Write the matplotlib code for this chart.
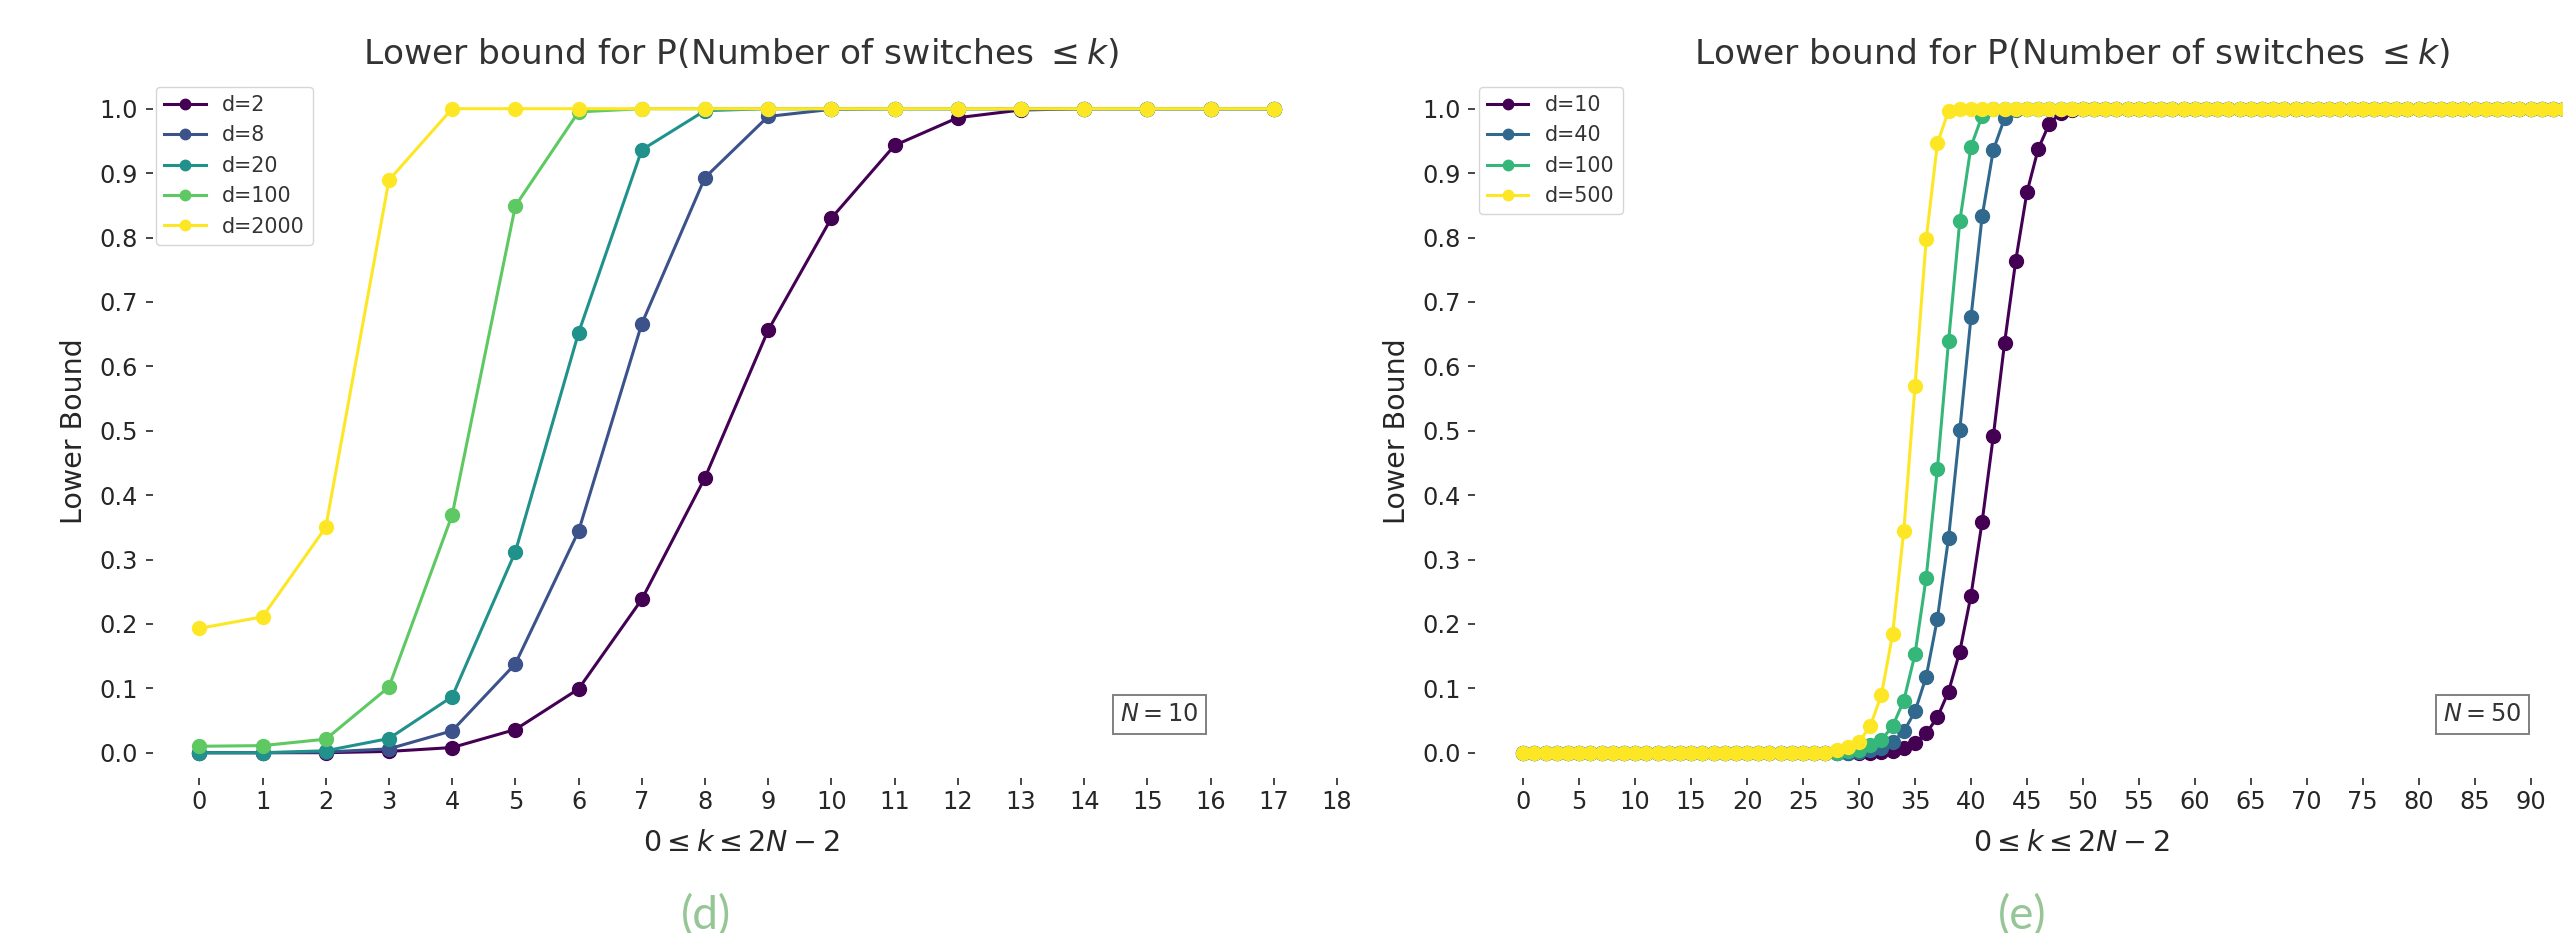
import matplotlib
matplotlib.use("Agg")
import matplotlib.pyplot as plt
import numpy as np

# ---------------- data ----------------
k_left = list(range(0, 18))
left_labels = ["d=2", "d=8", "d=20", "d=100", "d=2000"]
left_d2 = [0.0, 0.0, 0.0, 0.002, 0.008, 0.036, 0.099, 0.238, 0.427, 0.656, 0.830, 0.943,
           0.986, 0.998, 1.0, 1.0, 1.0, 1.0]
left_d8 = [0.0, 0.0, 0.001, 0.006, 0.034, 0.138, 0.344, 0.666, 0.893, 0.988, 0.999, 1.0,
           1.0, 1.0, 1.0, 1.0, 1.0, 1.0]
left_d20 = [0.0, 0.0, 0.003, 0.022, 0.087, 0.312, 0.652, 0.936, 0.997, 1.0, 1.0, 1.0,
            1.0, 1.0, 1.0, 1.0, 1.0, 1.0]
left_d100 = [0.010, 0.011, 0.021, 0.102, 0.369, 0.849, 0.995, 1.0, 1.0, 1.0, 1.0, 1.0,
             1.0, 1.0, 1.0, 1.0, 1.0, 1.0]
left_d2000 = [0.193, 0.211, 0.350, 0.889, 1.0, 1.0, 1.0, 1.0, 1.0, 1.0, 1.0, 1.0,
              1.0, 1.0, 1.0, 1.0, 1.0, 1.0]
left_xticks = list(range(0, 19))

k_right = list(range(0, 99))
right_labels = ["d=10", "d=40", "d=100", "d=500"]
# values listed from k=28 upward; earlier k values are 0, later ones are 1
right_d10_tail = [0.0, 0.0, 0.0, 0.0, 0.001, 0.003, 0.007, 0.015, 0.030, 0.055, 0.095, 0.157,
                  0.244, 0.359, 0.492, 0.636, 0.764, 0.870, 0.937, 0.977, 0.993, 0.998]
right_d40_tail = [0.0, 0.0, 0.001, 0.004, 0.008, 0.017, 0.033, 0.064, 0.118, 0.208, 0.334,
                  0.501, 0.676, 0.833, 0.936, 0.985, 0.998]
right_d100_tail = [0.0, 0.002, 0.004, 0.012, 0.020, 0.041, 0.081, 0.153, 0.272, 0.441, 0.639,
                   0.825, 0.941, 0.989, 0.999]
right_d500_tail = [0.004, 0.009, 0.017, 0.041, 0.090, 0.184, 0.345, 0.569, 0.797, 0.946, 0.997]
right_start = 28
right_xticks = list(range(0, 91, 5))


def full_series(tail, start, n):
    vals = [0.0] * start + list(tail)
    vals += [1.0] * (n - len(vals))
    return vals


right_series = [full_series(t, right_start, len(k_right))
                for t in (right_d10_tail, right_d40_tail, right_d100_tail, right_d500_tail)]
left_series = [left_d2, left_d8, left_d20, left_d100, left_d2000]

# ---------------- style ----------------
W, H = 2563, 933
TXT = "#262626"
plt.rcParams["font.family"] = ["DejaVu Sans"]
plt.rcParams["text.color"] = TXT

fig = plt.figure(figsize=(W / 100, H / 100), dpi=100)
fig.patch.set_facecolor("white")

ax_bottom = (H - 784.9) / H
ax_height = 708.4 / H
ax1 = fig.add_axes([145.6 / W, ax_bottom, (1337 - 145.6) / W, ax_height])
ax2 = fig.add_axes([1468.4 / W, ax_bottom, (2675 - 1468.4) / W, ax_height])


def style_axes(ax, xticks):
    for s in ax.spines.values():
        s.set_visible(False)
    ax.set_facecolor("white")
    ax.grid(False)
    ax.set_xticks(xticks)
    ax.set_yticks(np.round(np.arange(0, 1.01, 0.1), 1))
    ax.yaxis.set_major_formatter(matplotlib.ticker.FormatStrFormatter("%.1f"))
    ax.tick_params(axis="both", direction="in", length=5, width=1.2, color=TXT,
                   labelsize=17.3, labelcolor=TXT)
    ax.tick_params(axis="y", pad=5.5)
    ax.tick_params(axis="x", pad=3.5)
    ax.set_title(r"Lower bound for P(Number of switches $\leq k$)", fontsize=24.8,
                 color="#333333", pad=9)
    ax.set_ylabel("Lower Bound", fontsize=20.5, color=TXT, labelpad=8)
    ax.set_xlabel(r"$0 \leq k \leq 2N-2$", fontsize=20.5, color=TXT, labelpad=11)


cmap = plt.get_cmap("viridis")
lc = cmap(np.linspace(0, 1, len(left_series)))
for vals, lab, c in zip(left_series, left_labels, lc):
    ax1.plot(k_left, vals, "-o", color=c, lw=2.2, ms=10, label=lab)

rc = cmap(np.linspace(0, 1, len(right_series)))
for vals, lab, c in zip(right_series, right_labels, rc):
    ax2.plot(k_right, vals, "-o", color=c, lw=2.2, ms=10, label=lab)

style_axes(ax1, left_xticks)
style_axes(ax2, right_xticks)

for ax in (ax1, ax2):
    leg = ax.legend(loc="upper left", fontsize=14.9, markerscale=0.75, frameon=True,
                    fancybox=True, edgecolor="#cccccc", framealpha=0.8)
    for t in leg.get_texts():
        t.set_color("#333333")

box = dict(boxstyle="square,pad=0.3", facecolor="white", edgecolor="#808080", linewidth=1.4)
ax1.text(0.851, 0.0994, r"$N=10$", transform=ax1.transAxes, ha="center", va="center",
         fontsize=17.3, color="#333333", bbox=box)
ax2.text(0.8405, 0.0994, r"$N=50$", transform=ax2.transAxes, ha="center", va="center",
         fontsize=17.3, color="#333333", bbox=box)

cap = dict(ha="center", va="baseline", fontsize=33, color="#96c596",
           family=["Lato", "DejaVu Sans"], weight="normal")
fig.text(706 / W, 4 / H, "(d)", **cap)
fig.text(2022 / W, 4 / H, "(e)", **cap)

fig.savefig("out.png", dpi=100, facecolor="white")
